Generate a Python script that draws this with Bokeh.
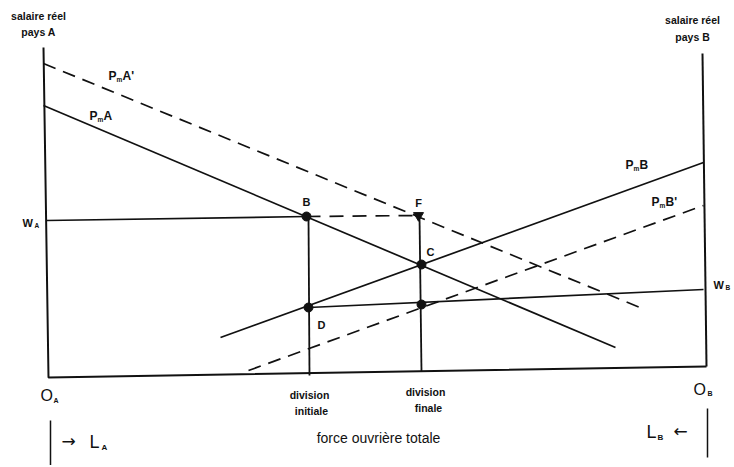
from bokeh.plotting import figure
from bokeh.models import Range1d
from bokeh.core.properties import value
from bokeh.embed import file_html
from bokeh.resources import INLINE

# ---- data (diagram coordinates) ----
# axes
axis_a_x = [43, 48, 706]
axis_a_y = [47, 377, 366]
axis_b_x = [702, 706]
axis_b_y = [53, 366]

# curves
pma_x = [43, 615]
pma_y = [105, 347]
pma2_x = [43, 642]
pma2_y = [63, 308]
pmb_x = [220, 703]
pmb_y = [337, 162]
pmb2_x = [248, 703]
pmb2_y = [370, 205]
wa_x = [46, 306]
wa_y = [220, 216]
wa_dash_x = [306, 418]
wa_dash_y = [216, 215]
wb_x = [308, 703]
wb_y = [307, 289]

# divisions (verticals)
div_init_x = [308, 309]
div_init_y = [216, 375]
div_fin_x = [419, 421]
div_fin_y = [215, 371]

# points B, C, D, E
pts_x = [306, 421, 308, 421]
pts_y = [216, 264, 307, 304]
f_x = [418]
f_y = [215]

# bars at bottom
bar_a_x = [50, 50]
bar_a_y = [420, 465]
bar_b_x = [707, 707]
bar_b_y = [408, 457]

FONT = value("Liberation Sans")
W, H = 732, 465

p = figure(width=W, height=H, x_range=Range1d(0, W), y_range=Range1d(H, 0),
           output_backend="svg", toolbar_location=None, min_border=0)
p.axis.visible = False
p.grid.visible = False
p.outline_line_color = None
p.background_fill_color = "white"
p.border_fill_color = "white"

K = "#111111"
p.line(axis_a_x, axis_a_y, line_color=K, line_width=2)
p.line(axis_b_x, axis_b_y, line_color=K, line_width=2)
p.line(pma_x, pma_y, line_color=K, line_width=1.7)
p.line(pma2_x, pma2_y, line_color=K, line_width=1.7, line_dash="13 8")
p.line(pmb_x, pmb_y, line_color=K, line_width=1.7)
p.line(pmb2_x, pmb2_y, line_color=K, line_width=1.7, line_dash="13 8")
p.line(wa_x, wa_y, line_color=K, line_width=1.7)
p.line(wa_dash_x, wa_dash_y, line_color=K, line_width=1.7, line_dash="14 9")
p.line(wb_x, wb_y, line_color=K, line_width=1.7)
p.line(div_init_x, div_init_y, line_color=K, line_width=1.8)
p.line(div_fin_x, div_fin_y, line_color=K, line_width=1.8)
p.line(bar_a_x, bar_a_y, line_color=K, line_width=1.5)
p.line(bar_b_x, bar_b_y, line_color=K, line_width=1.5)

p.scatter(pts_x, pts_y, size=9, marker="circle", color=K)
p.scatter(f_x, f_y, size=10, marker="inverted_triangle", color=K)


def txt(x, y, s, size, bold=True, align="center", baseline="middle", font=FONT):
    p.text(x=[x], y=[y], text=[s], text_font=font, text_font_size=f"{size}px",
           text_font_style="bold" if bold else "normal", text_align=align,
           text_baseline=baseline, text_color=K)


# axis titles
txt(38, 15, "salaire réel", 10.5)
txt(38, 31, "pays A", 10.5)
txt(692, 19, "salaire réel", 10.5)
txt(692, 36, "pays B", 10.5)

# curve labels (P with subscript m)
curve_labels = [(108, 75, "A'"), (89, 115, "A"), (625, 164, "B"), (651, 201, "B'")]
for x, y, s in curve_labels:
    txt(x, y, "P", 12, align="left")
    txt(x + 8, y + 4, "m", 6.5, align="left")
    txt(x + 14, y, s, 12, align="left")

# W labels
txt(22, 222, "W", 11, align="left")
txt(34, 225, "A", 6.5, align="left")
txt(713, 284, "W", 11, align="left")
txt(725, 287, "B", 6.5, align="left")

# point labels
txt(306, 201, "B", 11)
txt(418, 202, "F", 11)
txt(430, 251, "C", 11)
txt(321, 324, "D", 11)

# origins
txt(40, 395, "O", 16, bold=False, align="left")
txt(53, 400, "A", 7, align="left")
txt(693, 389, "O", 16, bold=False, align="left")
txt(707, 393, "B", 7, align="left")

# L labels
ARROW_FONT = value("DejaVu Sans")
txt(61, 440, "\u2192", 17, bold=False, align="left", font=ARROW_FONT)
txt(89, 441, "L", 18, bold=False, align="left")
txt(101, 447, "A", 8, align="left")
txt(646, 431, "L", 18, bold=False, align="left")
txt(657, 437, "B", 8, align="left")
txt(673, 430, "\u2190", 17, bold=False, align="left", font=ARROW_FONT)

# division labels
txt(309, 394, "division", 10.5)
txt(311, 410, "initiale", 10.5)
txt(425, 391, "division", 10.5)
txt(428, 407, "finale", 10.5)

txt(378, 437, "force ouvrière totale", 14, bold=False)

open("out.html", "w").write(file_html(p, INLINE))
